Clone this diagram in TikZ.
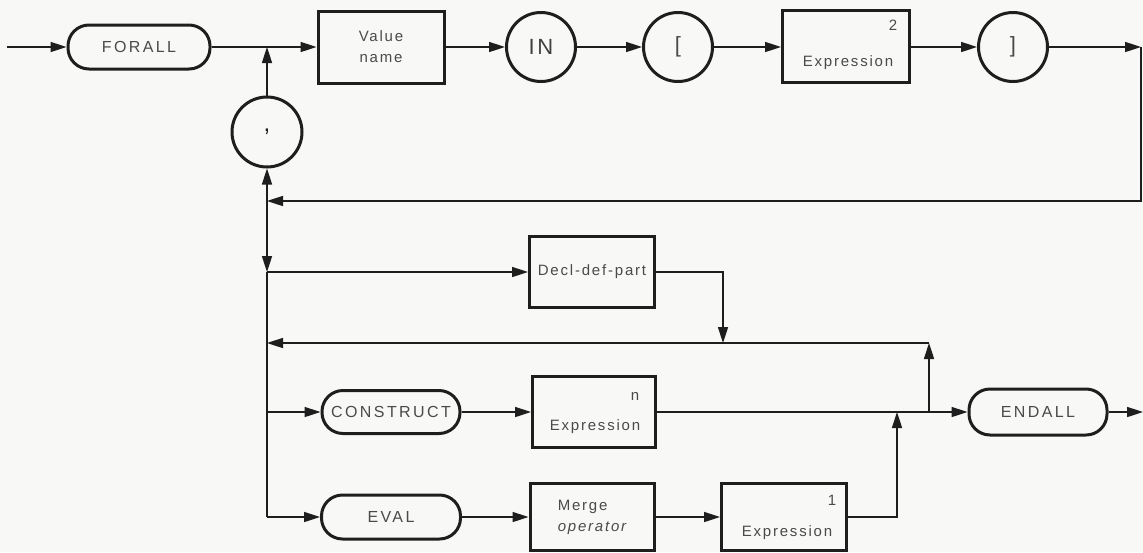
\documentclass[tikz,border=0pt]{standalone}
\usepackage{fontspec}
\setmainfont{Liberation Sans}
\newfontfamily\spaced[LetterSpace=12]{Liberation Sans}
\newfontfamily\kspaced[LetterSpace=15]{Liberation Sans}
\usetikzlibrary{arrows.meta}
\definecolor{ink}{HTML}{1E1E1E}
\definecolor{txt}{HTML}{4A4A4A}
\definecolor{bg}{HTML}{F8F8F6}
\tikzset{
 ln/.style={line width=1.6pt, draw=ink},
 arr/.style={ln, -{Triangle[length=16pt,width=10pt]}},
 box/.style={draw=ink, line width=3pt, minimum width=126pt, minimum height=71pt, inner sep=0pt, text=txt, font=\spaced\fontsize{15}{21}\selectfont},
 pill/.style={draw=ink, line width=3pt, rounded corners=21pt, minimum width=140pt, minimum height=44pt, inner sep=0pt, font=\kspaced\fontsize{16}{18}\selectfont, text=txt},
 term/.style={draw=ink, line width=3pt, circle, minimum size=69pt, inner sep=0pt, text=txt},
 lab/.style={font=\spaced\fontsize{15}{18}\selectfont, text=txt, inner sep=0pt},
}
\begin{document}
\begin{tikzpicture}[x=1pt,y=-1pt]
\fill[bg] (0,0) rectangle (1143,552);
\useasboundingbox (0,0) rectangle (1143,552);
% top row
\coordinate (start) at (7,47);
\node[pill, minimum width=142pt] (forall) at (139,47) {FORALL};
\coordinate (j1) at (267,47);
\node[box, minimum width=126pt, minimum height=72pt, align=center] (vname) at (381,47) {Value\\name};
\node[term, font=\spaced\fontsize{22}{24}\selectfont, text=ink!85] (in) at (541,47) {IN};
\node[term, font=\fontsize{22}{24}\selectfont] (lb) at (678,47) {[};
\node[box, minimum width=127pt, minimum height=72pt] (e2) at (846,46) {};
\node[lab] (e2s) at (893,25) {2};
\node[lab] (e2t) at (848,63) {Expression};
\node[term, font=\fontsize{22}{24}\selectfont] (rb) at (1013,47) {]};
\coordinate (rc) at (1141,47);
\coordinate (rd) at (1141,201);
\coordinate (j2) at (267,201);
\node[term, minimum size=70pt, font=\fontsize{24}{26}\selectfont, text=ink] (comma) at (267,132) {,};
% decl row
\coordinate (j3) at (267,272);
\node[box, minimum width=125pt] (decl) at (592,272) {Decl-def-part};
\coordinate (d1) at (723,272);
\coordinate (d2) at (723,343);
\coordinate (j4) at (267,343);
\coordinate (k1) at (929,343);
\coordinate (k2) at (929,412);
% construct row
\coordinate (j5) at (267,412);
\node[pill, minimum width=138pt, minimum height=43pt] (construct) at (391,412) {CONSTRUCT};
\node[box, minimum width=123pt] (en) at (594,412) {};
\node[lab] (ens) at (635,396) {n};
\node[lab] (ent) at (595,427) {Expression};
\node[pill, minimum width=138pt, minimum height=46pt] (endall) at (1038,412) {ENDALL};
\coordinate (exit) at (1143,412);
% eval row
\coordinate (j6) at (267,517);
\node[pill, minimum width=139pt] (eval) at (391,517) {EVAL};
\node[box, minimum width=124pt, minimum height=67pt, align=left] (merge) at (592,517) {Merge\\\itshape operator};
\node[box, minimum width=125pt, minimum height=67pt] (e1) at (784,517) {};
\node[lab] (e1s) at (832,500) {1};
\node[lab] (e1t) at (787,533) {Expression};
\coordinate (m1) at (897,517);
\coordinate (m2) at (897,412);
% connectors
\draw[arr] (start) -- (forall);
\draw[arr] (forall) -- (vname);
\draw[arr] (vname) -- (in);
\draw[arr] (in) -- (lb);
\draw[arr] (lb) -- (e2.west |- lb);
\draw[arr] (e2.east |- rb) -- (rb);
\draw[arr] (rb) -- (rc);
\draw[arr] (rc) -- (rd) -- (j2);
\draw[arr] (comma) -- (j1);
\draw[arr] (j2) -- (comma);
\draw[arr] (j2) -- (j3);
\draw[ln] (j3) -- (j6);
\draw[arr] (j3) -- (decl);
\draw[arr] (decl) -- (d1) -- (d2);
\draw[arr] (k1) -- (j4);
\draw[arr] (j5) -- (construct);
\draw[arr] (construct) -- (en);
\draw[arr] (en) -- (endall);
\draw[arr] (k2) -- (k1);
\draw[arr] (endall) -- (exit);
\draw[arr] (j6) -- (eval);
\draw[arr] (eval) -- (merge);
\draw[arr] (merge) -- (e1);
\draw[arr] (e1) -- (m1) -- (m2);
\end{tikzpicture}
\end{document}
